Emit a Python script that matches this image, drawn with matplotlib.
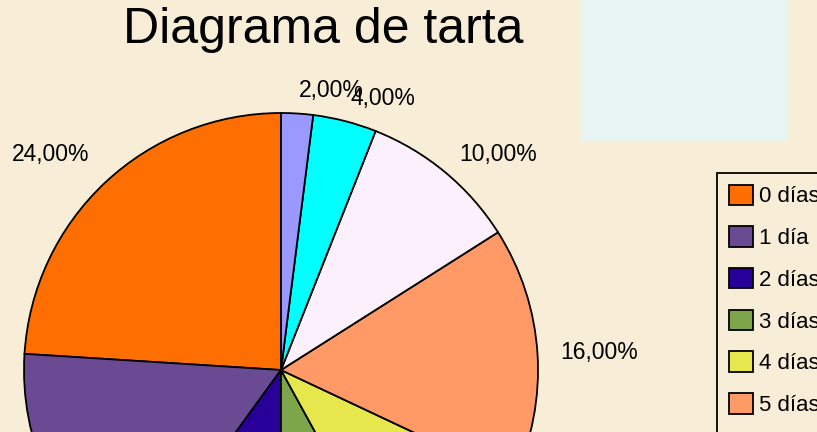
import matplotlib
matplotlib.use("Agg")
import matplotlib.pyplot as plt
from matplotlib.patches import Rectangle, Patch
import numpy as np

plt.rcParams['font.family'] = ['Liberation Sans', 'DejaVu Sans']

categories = ["0 días", "1 día", "2 días", "3 días", "4 días", "5 días", "6 días", "7 días", "8 días"]
values = [24, 16, 10, 8, 10, 16, 10, 4, 2]
slice_colors = ["#FF6E00", "#6B4A94", "#280099", "#7DA64B", "#E6E64D",
                "#FF9966", "#FCF0FC", "#00FFFF", "#9999FF"]
legend_colors = ["#FF6E00", "#6B4A94", "#280099", "#7DA64B", "#E6E64D",
                 "#FF9966", "#000080", "#00FFFF", "#9999FF"]
title = "Diagrama de tarta"

W, H = 817, 432
fig = plt.figure(figsize=(W / 100, H / 100), dpi=100)
bg = "#F8EED7"
fig.patch.set_facecolor(bg)
ax = fig.add_axes([0, 0, 1, 1])
ax.set_facecolor(bg)

# light blue box top-right
ax.add_patch(Rectangle((582, H - 142), 206, 142, facecolor="#E8F4F2", edgecolor="none", zorder=0))

cx, cy, R = 281, H - 370, 257
wedges, _ = ax.pie(values, colors=slice_colors, startangle=90, counterclock=True,
                   center=(cx, cy), radius=R,
                   wedgeprops=dict(edgecolor="black", linewidth=1.3))

for w, v in zip(wedges, values):
    mid = np.deg2rad((w.theta1 + w.theta2) / 2)
    c, s = np.cos(mid), np.sin(mid)
    d = R * 1.09
    ha = "left" if c > 0.05 else ("right" if c < -0.05 else "center")
    if s <= -0.5:
        va = "top"
    elif c < 0 and s > 0.5:
        va = "bottom"
    else:
        va = "center"
    ax.text(cx + d * c, cy + d * s,
            f"{v:.2f}".replace(".", ",") + "%",
            ha=ha, va=va, fontsize=16.5, color="black")

ax.set_xlim(0, W)
ax.set_ylim(0, H)
ax.set_aspect("auto")
ax.axis("off")

fig.text(323 / W, (H - 43) / H, title, ha="center", va="baseline", fontsize=36)

handles = [Patch(facecolor=c, edgecolor="black", linewidth=1.3) for c in legend_colors]
leg = fig.legend(handles, categories, loc="upper left",
                 bbox_to_anchor=(717 / W, 1 - 173 / H), bbox_transform=fig.transFigure,
                 fontsize=16, frameon=True, fancybox=False, borderpad=0.52,
                 handlelength=1.08, handleheight=1.04, handletextpad=0.3,
                 labelspacing=0.85, borderaxespad=0)
leg.get_frame().set_edgecolor("black")
leg.get_frame().set_linewidth(1.3)
leg.get_frame().set_facecolor(bg)
leg.get_frame().set_alpha(1)

fig.savefig("out.png", dpi=100, facecolor=bg)
